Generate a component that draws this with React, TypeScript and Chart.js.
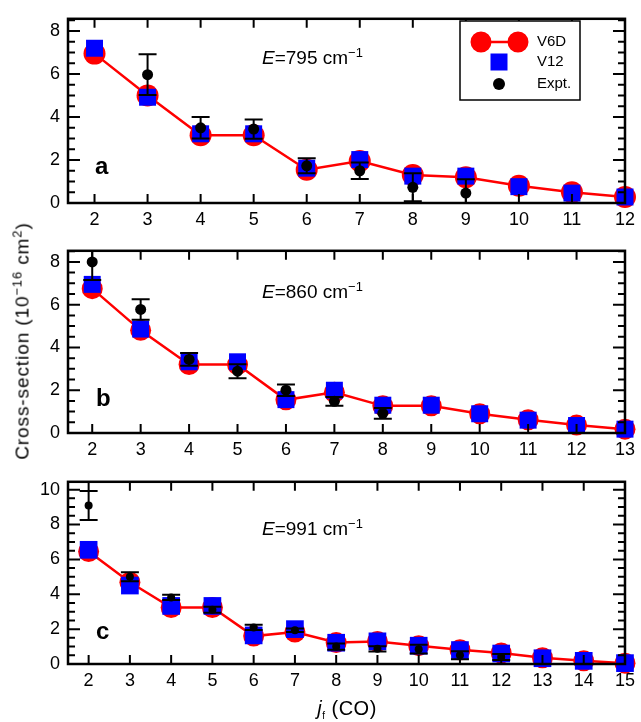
import React, { useEffect, useRef } from "react";
import { Chart, registerables } from "chart.js";
Chart.register(...registerables);

const FONT = "'Liberation Sans', Arial, Helvetica, sans-serif";
Chart.defaults.font.family = FONT;

// Panel a: E = 795 cm-1
const jA = [2, 3, 4, 5, 6, 7, 8, 9, 10, 11, 12];
const v6dA = [6.95, 5.0, 3.15, 3.15, 1.55, 1.95, 1.3, 1.2, 0.8, 0.5, 0.28];
const v12A = [7.2, 4.92, 3.22, 3.22, 1.62, 2.02, 1.25, 1.25, 0.76, 0.46, 0.28];
const exptA = [null, 5.97, 3.5, 3.44, 1.73, 1.5, 0.73, 0.46, null, null, null];
const errA = [0, 0.95, 0.5, 0.45, 0.35, 0.38, 0.65, 0.65, 0, 0, 0];

// Panel b: E = 860 cm-1
const jB = [2, 3, 4, 5, 6, 7, 8, 9, 10, 11, 12, 13];
const v6dB = [6.75, 4.8, 3.2, 3.2, 1.55, 1.9, 1.27, 1.27, 0.9, 0.62, 0.37, 0.18];
const v12B = [6.95, 4.86, 3.33, 3.33, 1.56, 2.0, 1.3, 1.3, 0.9, 0.6, 0.35, 0.18];
const exptB = [8.0, 5.78, 3.44, 2.89, 2.0, 1.48, 0.92, null, null, null, null, null];
const errB = [0.85, 0.48, 0.3, 0.33, 0.27, 0.2, 0.25, 0, 0, 0, 0, 0];

// Panel c: E = 991 cm-1
const jC = [2, 3, 4, 5, 6, 7, 8, 9, 10, 11, 12, 13, 14, 15];
const v6dC = [6.45, 4.69, 3.24, 3.24, 1.6, 1.83, 1.23, 1.29, 1.05, 0.82, 0.63, 0.36, 0.18, 0.05];
const v12C = [6.55, 4.5, 3.33, 3.33, 1.64, 2.0, 1.22, 1.3, 1.05, 0.8, 0.6, 0.33, 0.18, 0.05];
const exptC = [9.09, 5.0, 3.82, 3.11, 2.1, 1.93, 1.0, 0.87, 0.85, 0.5, 0.4, null, null, null];
const errC = [0.83, 0.26, 0.15, 0.17, 0.15, 0.1, 0.18, 0.15, 0.25, 0.23, 0.17, 0, 0, 0];

const yTicksAB = [0, 2, 4, 6, 8];
const yTicksC = [0, 2, 4, 6, 8, 10];

type Panel = {
  j: number[];
  v6d: number[];
  v12: number[];
  expt: (number | null)[];
  err: number[];
  xmax: number;
  ymax: number;
  yMajor: number[];
  top: number;
  h: number;
  padTop: number;
  xH: number;
  circR: number;
  sqR: number;
  dotR: number;
  legend: boolean;
};

const panels: Panel[] = [
  { j: jA, v6d: v6dA, v12: v12A, expt: exptA, err: errA, xmax: 12, ymax: 8.57, yMajor: yTicksAB, top: 0, h: 232, padTop: 11, xH: 29, circR: 11, sqR: 12, dotR: 5.5, legend: true },
  { j: jB, v6d: v6dB, v12: v12B, expt: exptB, err: errB, xmax: 13, ymax: 8.52, yMajor: yTicksAB, top: 232, h: 231, padTop: 10, xH: 30, circR: 10.5, sqR: 12, dotR: 5.5, legend: false },
  { j: jC, v6d: v6dC, v12: v12C, expt: exptC, err: errC, xmax: 15, ymax: 10.45, yMajor: yTicksC, top: 463, h: 259, padTop: 10, xH: 58, circR: 10.5, sqR: 12.5, dotR: 4, legend: false },
];

function makePlugin(p: Panel) {
  return {
    id: "frameTicks",
    afterDatasetsDraw(chart: any) {
      const { ctx, chartArea: a, scales } = chart;
      const xs = scales.x;
      const ys = scales.y;
      ctx.save();
      ctx.beginPath();
      ctx.rect(a.left, a.top, a.right - a.left, a.bottom - a.top);
      ctx.clip();
      ctx.strokeStyle = "#000";
      ctx.lineWidth = 2;
      p.expt.forEach((v, i) => {
        if (v == null || !p.err[i]) return;
        const px = xs.getPixelForValue(p.j[i]);
        const t = ys.getPixelForValue(v + p.err[i]);
        const b = ys.getPixelForValue(v - p.err[i]);
        ctx.beginPath();
        ctx.moveTo(px, t);
        ctx.lineTo(px, b);
        ctx.moveTo(px - 9, t);
        ctx.lineTo(px + 9, t);
        ctx.moveTo(px - 9, b);
        ctx.lineTo(px + 9, b);
        ctx.stroke();
      });
      ctx.restore();
    },
    afterDraw(chart: any) {
      const { ctx, chartArea: a, scales } = chart;
      const xs = scales.x;
      const ys = scales.y;
      ctx.save();
      ctx.strokeStyle = "#000";
      ctx.lineWidth = 2;
      ctx.beginPath();
      for (let v = 0; v <= p.ymax + 1e-6; v += 0.5) {
        const py = ys.getPixelForValue(v);
        const major = Math.abs(v / 2 - Math.round(v / 2)) < 1e-6;
        const len = major ? 12 : 7;
        ctx.moveTo(a.left, py);
        ctx.lineTo(a.left + len, py);
        ctx.moveTo(a.right, py);
        ctx.lineTo(a.right - len, py);
      }
      p.j.forEach((v) => {
        const px = xs.getPixelForValue(v);
        ctx.moveTo(px, a.bottom);
        ctx.lineTo(px, a.bottom - 9);
        ctx.moveTo(px, a.top);
        ctx.lineTo(px, a.top + 9);
      });
      ctx.stroke();
      ctx.lineWidth = 2.5;
      ctx.strokeRect(a.left, a.top, a.right - a.left, a.bottom - a.top);

      if (p.legend) {
        const bx = 460, by = 21, bw = 120, bh = 79;
        ctx.fillStyle = "#fff";
        ctx.fillRect(bx, by, bw, bh);
        ctx.lineWidth = 1.5;
        ctx.strokeRect(bx, by, bw, bh);
        ctx.strokeStyle = "#ff0000";
        ctx.lineWidth = 2.5;
        ctx.beginPath();
        ctx.moveTo(481, 42);
        ctx.lineTo(518, 42);
        ctx.stroke();
        ctx.fillStyle = "#ff0000";
        ctx.beginPath();
        ctx.arc(481, 42, 10.5, 0, Math.PI * 2);
        ctx.arc(518, 42, 10.5, 0, Math.PI * 2);
        ctx.fill();
        ctx.fillStyle = "#0000ff";
        ctx.fillRect(499 - 8.5, 62 - 8.5, 17, 17);
        ctx.fillStyle = "#000";
        ctx.beginPath();
        ctx.arc(499, 84, 6, 0, Math.PI * 2);
        ctx.fill();
        ctx.font = `15px ${FONT}`;
        ctx.textBaseline = "middle";
        ctx.textAlign = "left";
        ctx.fillText("V6D", 537, 42);
        ctx.fillText("V12", 537, 62);
        ctx.fillText("Expt.", 537, 84);
      }
      ctx.restore();
    },
  };
}

function PanelChart({ p }: { p: Panel }) {
  const ref = useRef<HTMLCanvasElement>(null);
  useEffect(() => {
    if (!ref.current) return;
    const exptData = p.j
      .map((x, i) => ({ x, y: p.expt[i] }))
      .filter((d) => d.y != null);
    const chart = new Chart(ref.current, {
      type: "line",
      data: {
        datasets: [
          {
            label: "Expt.",
            data: exptData as any,
            showLine: false,
            pointRadius: p.dotR,
            pointBackgroundColor: "#000",
            pointBorderWidth: 0,
            clip: false as any,
          },
          {
            label: "V12",
            data: p.j.map((x, i) => ({ x, y: p.v12[i] })),
            showLine: false,
            pointStyle: "rect",
            pointRadius: p.sqR,
            pointBackgroundColor: "#0000ff",
            pointBorderWidth: 0,
            clip: false as any,
          },
          {
            label: "V6D",
            data: p.j.map((x, i) => ({ x, y: p.v6d[i] })),
            borderColor: "#ff0000",
            borderWidth: 2.5,
            pointRadius: p.circR,
            pointBackgroundColor: "#ff0000",
            pointBorderWidth: 0,
            clip: false as any,
          },
        ],
      },
      options: {
        responsive: false,
        animation: false,
        devicePixelRatio: 1,
        events: [],
        layout: { padding: { top: p.padTop, right: 13, left: 0, bottom: 0 } },
        plugins: { legend: { display: false }, tooltip: { enabled: false } },
        scales: {
          x: {
            type: "linear",
            min: 1.5,
            max: p.xmax,
            grid: { display: false, drawTicks: false },
            border: { display: false },
            ticks: { font: { size: 18, family: FONT }, color: "#000", padding: 6, maxRotation: 0, autoSkip: false },
            afterBuildTicks: (s: any) => {
              s.ticks = p.j.map((v) => ({ value: v }));
            },
            afterFit: (s: any) => {
              s.height = p.xH;
            },
          },
          y: {
            type: "linear",
            min: 0,
            max: p.ymax,
            grid: { display: false, drawTicks: false },
            border: { display: false },
            ticks: { font: { size: 18, family: FONT }, color: "#000", padding: 8 },
            afterBuildTicks: (s: any) => {
              s.ticks = p.yMajor.map((v) => ({ value: v }));
            },
            afterFit: (s: any) => {
              s.width = 68;
            },
          },
        },
      } as any,
      plugins: [makePlugin(p)],
    });
    return () => chart.destroy();
  }, [p]);
  return (
    <canvas
      ref={ref}
      width={641}
      height={p.h}
      style={{ position: "absolute", left: 0, top: p.top, width: 641, height: p.h }}
    />
  );
}

const supStyle: React.CSSProperties = { fontSize: "0.68em", position: "relative", top: "-0.55em" };

function Annot({ left, top, value }: { left: number; top: number; value: string }) {
  return (
    <div style={{ position: "absolute", left, top, fontSize: 19, lineHeight: "19px", whiteSpace: "nowrap" }}>
      <i>E</i>={value} cm<span style={supStyle}>−1</span>
    </div>
  );
}

function PanelLabel({ left, top, text }: { left: number; top: number; text: string }) {
  return (
    <div style={{ position: "absolute", left, top, fontSize: 24, fontWeight: "bold", lineHeight: "24px" }}>{text}</div>
  );
}

export default function App() {
  return (
    <div
      style={{
        position: "absolute",
        left: 0,
        top: 0,
        width: 641,
        height: 722,
        background: "#fff",
        fontFamily: FONT,
        color: "#000",
        overflow: "hidden",
      }}
    >
      {panels.map((p, i) => (
        <PanelChart key={i} p={p} />
      ))}
      <Annot left={262} top={48} value="795" />
      <Annot left={262} top={282} value="860" />
      <Annot left={262} top={519} value="991" />
      <PanelLabel left={95} top={154} text="a" />
      <PanelLabel left={96} top={386} text="b" />
      <PanelLabel left={96} top={619} text="c" />
      <div
        style={{
          position: "absolute",
          left: 23,
          top: 341,
          transform: "translate(-50%, -50%) rotate(-90deg)",
          fontSize: 19,
          letterSpacing: "0.9px",
          lineHeight: "19px",
          whiteSpace: "nowrap",
        }}
      >
        Cross-section (10<span style={supStyle}>−16</span> cm<span style={supStyle}>2</span>)
      </div>
      <div
        style={{
          position: "absolute",
          left: 347,
          top: 710,
          transform: "translate(-50%, -50%)",
          fontSize: 20,
          letterSpacing: "0.5px",
          lineHeight: "20px",
          whiteSpace: "nowrap",
        }}
      >
        <i>j</i>
        <span style={{ fontSize: "0.5em", position: "relative", top: "0.4em" }}>f</span> (CO)
      </div>
    </div>
  );
}
